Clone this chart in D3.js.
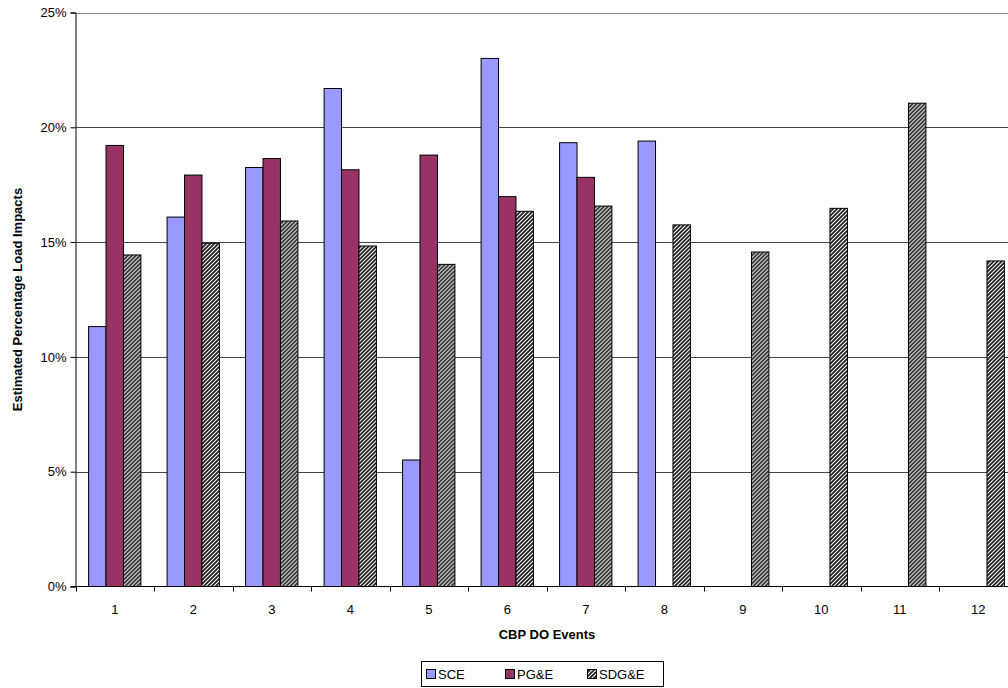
<!DOCTYPE html>
<html>
<head>
<meta charset="utf-8">
<script src="https://cdn.jsdelivr.net/npm/d3@7"></script>
<style>
  body { margin: 0; background: #fff; }
  svg { display: block; font-family: "Liberation Sans", Arial, sans-serif; }
</style>
</head>
<body>
<svg id="chart" width="1008" height="688"></svg>
<script>
// Data (percent)
const events = ["1", "2", "3", "4", "5", "6", "7", "8", "9", "10", "11", "12"];
const seriesNames = ["SCE", "PG&E", "SDG&E"];
const sce = [11.32, 16.09, 18.25, 21.69, 5.51, 23.0, 19.33, 19.40, null, null, null, null];
const pge = [19.21, 17.92, 18.64, 18.15, 18.79, 16.98, 17.82, null, null, null, null, null];
const sdge = [14.44, 14.95, 15.92, 14.83, 14.03, 16.34, 16.57, 15.75, 14.57, 16.47, 21.05, 14.18];
const yTicks = [0, 5, 10, 15, 20, 25];

const seriesValues = [sce, pge, sdge];

// Set up dimensions
const margin = { top: 12.5, left: 75.5 };
const plotHeight = 574;
const step = 78.5;
const plotRight = margin.left + step * events.length;

const svg = d3.select("#chart");

// hatch pattern for SDG&E
const defs = svg.append("defs");
const pat = defs.append("pattern")
  .attr("id", "hatch")
  .attr("patternUnits", "userSpaceOnUse")
  .attr("width", 4)
  .attr("height", 4);
pat.append("rect").attr("width", 4).attr("height", 4).attr("fill", "#fff");
pat.append("path")
  .attr("d", "M-1,1 L1,-1 M0,4 L4,0 M3,5 L5,3")
  .attr("stroke", "#222")
  .attr("stroke-width", 1.8);

const fills = { "SCE": "#9999FF", "PG&E": "#993366", "SDG&E": "url(#hatch)" };

// Scales
const x0 = d3.scaleBand()
  .domain(events)
  .range([margin.left, plotRight])
  .padding(0);

const x1 = d3.scaleBand()
  .domain(seriesNames)
  .range([0, x0.bandwidth()])
  .paddingInner(0)
  .paddingOuter(0.75);

const y = d3.scaleLinear()
  .domain([0, 25])
  .range([margin.top + plotHeight, margin.top]);

// Gridlines
svg.append("g")
  .selectAll("line")
  .data(yTicks.filter(d => d > 0))
  .enter().append("line")
  .attr("x1", margin.left)
  .attr("x2", 1008)
  .attr("y1", d => Math.round(y(d)) + 0.5)
  .attr("y2", d => Math.round(y(d)) + 0.5)
  .attr("stroke", d => d === 25 ? "#888" : "#444")
  .attr("stroke-width", 1);

// Bars
const rows = events.map((e, i) => ({
  event: e,
  values: seriesNames.map((s, j) => ({ series: s, value: seriesValues[j][i] }))
}));

const groups = svg.append("g")
  .selectAll("g")
  .data(rows)
  .enter().append("g")
  .attr("transform", d => "translate(" + x0(d.event) + ",0)");

groups.selectAll("rect")
  .data(d => d.values.filter(v => v.value !== null))
  .enter().append("rect")
  .attr("x", d => x1(d.series))
  .attr("y", d => y(d.value))
  .attr("width", x1.bandwidth())
  .attr("height", d => y(0) - y(d.value))
  .attr("fill", d => fills[d.series])
  .attr("stroke", "#000")
  .attr("stroke-width", 1);

// Y axis
const yAxis = svg.append("g")
  .attr("transform", "translate(" + margin.left + ",0)")
  .call(d3.axisLeft(y).tickValues(yTicks).tickFormat(d => d + "%").tickSize(5).tickPadding(4));
yAxis.select(".domain").attr("stroke", "#000");
yAxis.selectAll("text").style("font-size", "13px").attr("fill", "#000");

// X axis (ticks at band boundaries)
const xAxis = svg.append("g")
  .attr("transform", "translate(0," + y(0) + ")");
xAxis.append("line")
  .attr("x1", margin.left - 5)
  .attr("x2", 1008)
  .attr("stroke", "#000");
xAxis.selectAll(".tk")
  .data(events)
  .enter().append("line")
  .attr("class", "tk")
  .attr("x1", d => Math.round(x0(d)) + 0.5)
  .attr("x2", d => Math.round(x0(d)) + 0.5)
  .attr("y1", 0)
  .attr("y2", 5)
  .attr("stroke", "#000");
xAxis.selectAll(".lbl")
  .data(events)
  .enter().append("text")
  .attr("class", "lbl")
  .attr("x", d => x0(d) + x0.bandwidth() / 2)
  .attr("y", 27)
  .attr("text-anchor", "middle")
  .style("font-size", "13px")
  .text(d => d);

// Axis titles
svg.append("text")
  .attr("x", 547)
  .attr("y", 639)
  .attr("text-anchor", "middle")
  .style("font-size", "13px")
  .style("font-weight", "bold")
  .text("CBP DO Events");

svg.append("text")
  .attr("transform", "rotate(-90)")
  .attr("x", -(margin.top + plotHeight / 2))
  .attr("y", 22)
  .attr("text-anchor", "middle")
  .style("font-size", "13px")
  .style("font-weight", "bold")
  .text("Estimated Percentage Load Impacts");

// Legend
const legend = svg.append("g").attr("transform", "translate(421,661)");
legend.append("rect")
  .attr("x", 0.5).attr("y", 0.5)
  .attr("width", 242).attr("height", 25)
  .attr("fill", "#fff")
  .attr("stroke", "#000");
const legendX = [5, 84, 166];
const items = legend.selectAll(".item")
  .data(seriesNames)
  .enter().append("g")
  .attr("transform", (d, i) => "translate(" + legendX[i] + ",0)");
items.append("rect")
  .attr("x", 0.5).attr("y", 8.5)
  .attr("width", 9).attr("height", 9)
  .attr("fill", d => fills[d])
  .attr("stroke", "#000");
items.append("text")
  .attr("x", 12)
  .attr("y", 18)
  .style("font-size", "13px")
  .text(d => d);
</script>
</body>
</html>
